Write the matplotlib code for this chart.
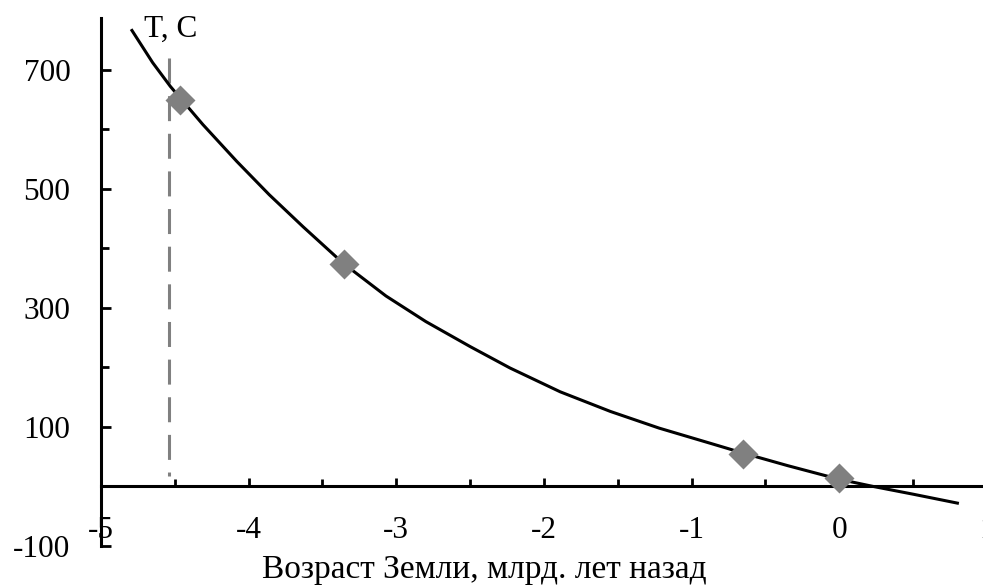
import numpy as np
import matplotlib
matplotlib.use('Agg')
import matplotlib.pyplot as plt
from matplotlib.ticker import MultipleLocator, FixedLocator

fontName= 'Liberation Serif'
tickLabelFontSize= 22.5
axisLabelFontSize= 24

markerColor= '#808080'
lineColor= 'k'

# measured points: age (Gyr ago, negative = past) and temperature
ageGyr= [-4.465, -3.355, -0.65, 0.0]
tempC= [650, 373, 54, 14]

# trend curve through the points
trendAge= [-4.79, -4.65, -4.53, -4.31, -4.08, -3.86, -3.63, -3.36, -3.07, -2.80,
           -2.50, -2.23, -1.89, -1.55, -1.22, -0.88, -0.65, -0.35, 0.00, 0.23,
           0.50, 0.80]
trendTemp= [766, 712, 672, 608, 546, 490, 436, 375, 320, 277,
            235, 199, 159, 126, 98, 73, 56, 35, 12, 0,
            -13, -28]

# age of the Earth marker
earthAge= -4.54
earthLineTop= 720
earthLineBottom= 18

xTicks= [-5, -4, -3, -2, -1, 0, 1]
xTickLabels= ['-5', '-4', '-3', '-2', '-1', '0', '1']
yTicks= [-100, 100, 300, 500, 700]
yTickLabels= ['-100', '100', '300', '500', '700']

plt.rcParams['font.family']= fontName
plt.rcParams['lines.scale_dashes']= False

fig= plt.figure(figsize= (9.83, 5.85), dpi= 100)
ax= fig.add_axes([0.1027, 0.0667, 0.9013, 0.9026])

ax.plot([earthAge, earthAge], [earthLineTop, earthLineBottom], color= markerColor,
        lw= 2.2, dashes= (18, 9.1), solid_capstyle= 'butt', dash_capstyle= 'butt')
ax.plot(trendAge, trendTemp, color= lineColor, lw= 2.2, zorder= 3,
        solid_joinstyle= 'round')
ax.plot(ageGyr, tempC, 'D', color= markerColor, ms= 15.5, mec= 'none', zorder= 4)

ax.text(-4.71, 768, 'T, C', fontsize= tickLabelFontSize, va= 'center', ha= 'left')

ax.set_xlim(-5, 1)
ax.set_ylim(-100, 787)

for side in ['top', 'right']:
    ax.spines[side].set_visible(False)
ax.spines['bottom'].set_position(('data', 0))
ax.spines['left'].set_linewidth(2.2)
ax.spines['bottom'].set_linewidth(2.2)

ax.xaxis.set_major_locator(FixedLocator(xTicks))
ax.set_xticklabels(xTickLabels)
ax.xaxis.set_minor_locator(MultipleLocator(0.5))
ax.yaxis.set_major_locator(FixedLocator(yTicks))
ax.set_yticklabels(yTickLabels)
ax.yaxis.set_minor_locator(FixedLocator([0, 200, 400, 600]))

ax.tick_params(axis='x', which='major', direction='in', length=6, width=2, pad=21.5,
               labelsize=tickLabelFontSize)
ax.tick_params(axis='x', which='minor', direction='in', length=5, width=2)
ax.tick_params(axis='y', which='major', direction='in', length=7.5, width=2, pad=22,
               labelsize=tickLabelFontSize)
ax.tick_params(axis='y', which='minor', direction='in', length=6, width=2)

fig.text(484/983, 0.012, 'Возраст Земли, млрд. лет назад', fontsize= axisLabelFontSize,
         ha= 'center', va= 'baseline')

plt.savefig('out.png', dpi= 100)
